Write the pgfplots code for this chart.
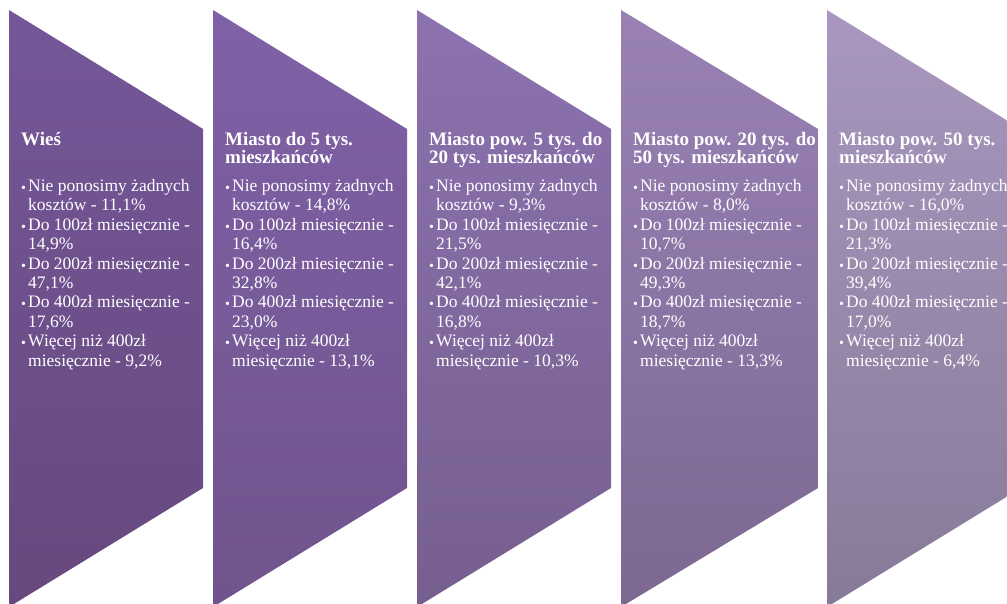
\documentclass[border=0pt]{standalone}
\usepackage{pgfplots}
\pgfplotsset{compat=1.18}
\usepackage{fontspec}
\setmainfont{Liberation Serif}

\definecolor{c1t}{RGB}{116,87,152}\definecolor{c1b}{RGB}{103,73,127}
\definecolor{c2t}{RGB}{127,97,167}\definecolor{c2b}{RGB}{112,84,140}
\definecolor{c3t}{RGB}{140,114,175}\definecolor{c3b}{RGB}{118,95,143}
\definecolor{c4t}{RGB}{153,129,181}\definecolor{c4b}{RGB}{124,104,146}
\definecolor{c5t}{RGB}{169,151,191}\definecolor{c5b}{RGB}{135,122,152}

\tikzset{
 bl/.style={anchor=base west, inner sep=0pt, text=white, font=\fontsize{17.5}{19.4}\selectfont},
 bu/.style={anchor=base west, inner sep=0pt, text=white, font=\fontsize{14}{14}\selectfont},
 hd/.style={anchor=base west, inner sep=0pt, text=white, font=\fontsize{19}{18}\selectfont\bfseries}
}

% #1 = left edge x, #2..#6 = values (text)
\newcommand\bodytext[6]{%
 \node[bu] at (#1+12,192.5) {•};
 \node[bl] at (#1+19,191.5) {Nie ponosimy żadnych};
 \node[bl] at (#1+19,210.9) {kosztów - #2\%};
 \node[bu] at (#1+12,231.3) {•};
 \node[bl] at (#1+19,230.3) {Do 100zł miesięcznie -};
 \node[bl] at (#1+19,249.7) {#3\%};
 \node[bu] at (#1+12,270.1) {•};
 \node[bl] at (#1+19,269.1) {Do 200zł miesięcznie -};
 \node[bl] at (#1+19,288.5) {#4\%};
 \node[bu] at (#1+12,308.9) {•};
 \node[bl] at (#1+19,307.9) {Do 400zł miesięcznie -};
 \node[bl] at (#1+19,327.3) {#5\%};
 \node[bu] at (#1+12,347.7) {•};
 \node[bl] at (#1+19,346.7) {Więcej niż 400zł};
 \node[bl] at (#1+19,366.1) {miesięcznie - #6\%};
}

\begin{document}
\begin{tikzpicture}
\useasboundingbox (0,0) rectangle (1007pt,604pt);
\begin{axis}[
  at={(0,0)}, anchor=south west,
  scale only axis, width=1007pt, height=604pt,
  xmin=0, xmax=1007, ymin=0, ymax=604, y dir=reverse,
  hide axis, clip=true
]
% chevrons: left x, right x
\addplot[draw=none, mark=none, top color=c1t, bottom color=c1b] coordinates {(9,10) (203,129) (203,488) (9,607)} -- cycle;
\addplot[draw=none, mark=none, top color=c2t, bottom color=c2b] coordinates {(213,10) (407,129) (407,488) (213,607)} -- cycle;
\addplot[draw=none, mark=none, top color=c3t, bottom color=c3b] coordinates {(417,10) (611,129) (611,488) (417,607)} -- cycle;
\addplot[draw=none, mark=none, top color=c4t, bottom color=c4b] coordinates {(621,10) (818,129) (818,488) (621,607)} -- cycle;
\addplot[draw=none, mark=none, top color=c5t, bottom color=c5b] coordinates {(827,10) (1021,129) (1021,488) (827,607)} -- cycle;

\node[hd] at (21,146) {Wieś};
\node[hd] at (225,146) {Miasto do 5 tys.};
\node[hd] at (225,164) {mieszkańców};
\node[hd] at (429,146) {Miasto pow. 5 tys. do};
\node[hd] at (429,164) {20 tys. mieszkańców};
\node[hd] at (633,146) {Miasto pow. 20 tys. do};
\node[hd] at (633,164) {50 tys. mieszkańców};
\node[hd] at (839,146) {Miasto pow. 50 tys.};
\node[hd] at (839,164) {mieszkańców};

\bodytext{9}{11,1}{14,9}{47,1}{17,6}{9,2}
\bodytext{213}{14,8}{16,4}{32,8}{23,0}{13,1}
\bodytext{417}{9,3}{21,5}{42,1}{16,8}{10,3}
\bodytext{621}{8,0}{10,7}{49,3}{18,7}{13,3}
\bodytext{827}{16,0}{21,3}{39,4}{17,0}{6,4}
\end{axis}
\end{tikzpicture}
\end{document}
